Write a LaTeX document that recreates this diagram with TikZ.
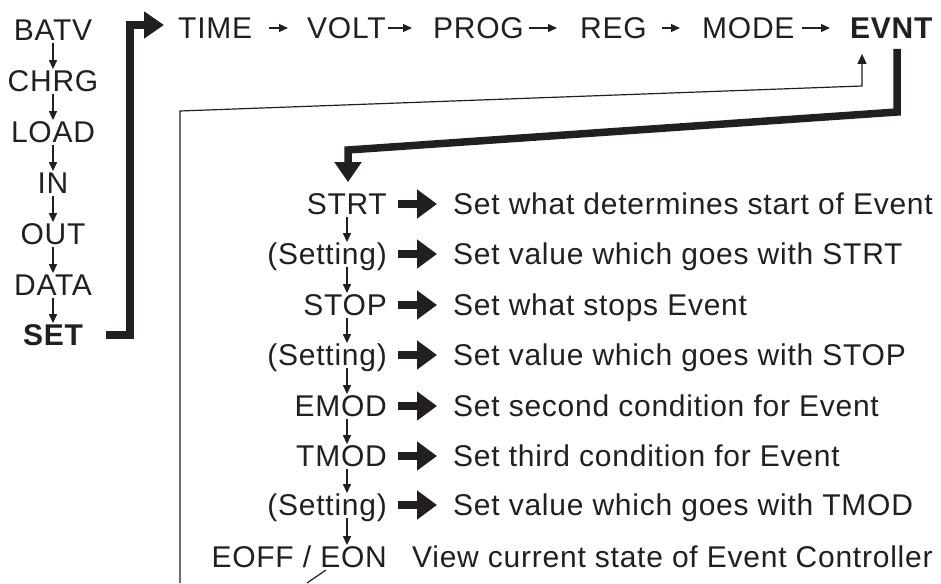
\documentclass[tikz,border=0pt]{standalone}
\usepackage{fontspec}
\setmainfont{Liberation Sans}[LetterSpace=2.5]
\usetikzlibrary{arrows.meta}
\definecolor{ink}{HTML}{231F20}
\begin{document}
\begin{tikzpicture}[x=1pt,y=-1pt,
  txt/.style={inner sep=0pt, text height=21.4pt, text depth=0pt, text=ink, font=\fontsize{30}{31}\selectfont},
  btxt/.style={txt, font=\fontsize{30}{31}\selectfont\bfseries},
  sarrow/.style={draw=ink, line width=1.3pt, -{Triangle[length=9pt,width=8pt]}},
  bigarrow/.style={draw=ink, line width=8pt, -{Triangle[length=20pt,width=28pt]}},
  bigline/.style={draw=ink, line width=7.5pt, line join=miter, -{Triangle[length=20pt,width=26pt]}},
  thinline/.style={draw=ink, line width=1.2pt, -{Triangle[length=10pt,width=9pt]}},
]
\useasboundingbox (0,0) rectangle (941,583);

% left column
\node[txt] (batv) at (53,30) {BATV};
\node[txt] (chrg) at (53,81) {CHRG};
\node[txt] (load) at (53,132) {LOAD};
\node[txt] (in)   at (53,183) {IN};
\node[txt] (out)  at (53,234) {OUT};
\node[txt] (data) at (53,285) {DATA};
\node[btxt] (set) at (53,335) {SET};
\foreach \a/\b in {batv/chrg,chrg/load,load/in,in/out,out/data,data/set}
  \draw[sarrow] ([yshift=-2]\a.south) -- ([yshift=1]\b.north);

% top row
\node[txt, anchor=west] (time) at (178,28) {TIME};
\node[txt, anchor=west] (volt) at (307,28) {VOLT};
\node[txt, anchor=west] (prog) at (433,28) {PROG};
\node[txt, anchor=west] (reg)  at (580,28) {REG};
\node[txt, anchor=west] (mode) at (702,28) {MODE};
\node[btxt, anchor=west] (evnt) at (850,28) {EVNT};
\draw[sarrow] ([xshift=17]time.east) -- ([xshift=-19]volt.west);
\draw[sarrow] ([xshift=2]volt.east) -- ([xshift=-21]prog.west);
\draw[sarrow] ([xshift=5]prog.east) -- ([xshift=-23]reg.west);
\draw[sarrow] ([xshift=15]reg.east) -- ([xshift=-22]mode.west);
\draw[sarrow] ([xshift=7]mode.east) -- ([xshift=-20]evnt.west);

% lower list
\coordinate (ax) at (347,0);
\node[txt, anchor=east] (strt) at (387,204) {STRT};
\node[txt, anchor=east] (s1)   at (387,254) {(Setting)};
\node[txt, anchor=east] (stop) at (387,305) {STOP};
\node[txt, anchor=east] (s2)   at (387,355) {(Setting)};
\node[txt, anchor=east] (emod) at (387,406) {EMOD};
\node[txt, anchor=east] (tmod) at (387,456) {TMOD};
\node[txt, anchor=east] (s3)   at (387,505) {(Setting)};
\node[txt, anchor=east] (eoff) at (387,557) {EOFF / EON};
\foreach \a/\b in {strt/s1,s1/stop,stop/s2,s2/emod,emod/tmod,tmod/s3,s3/eoff}
  \draw[sarrow] ([yshift=-2]\a.south -| ax) -- ([yshift=1]\b.north -| ax);

\node[txt, anchor=west] (d1) at (453,204) {Set what determines start of Event};
\node[txt, anchor=west] (d2) at (453,254) {Set value which goes with STRT};
\node[txt, anchor=west] (d3) at (453,305) {Set what stops Event};
\node[txt, anchor=west] (d4) at (453,355) {Set value which goes with STOP};
\node[txt, anchor=west] (d5) at (453,406) {Set second condition for Event};
\node[txt, anchor=west] (d6) at (453,456) {Set third condition for Event};
\node[txt, anchor=west] (d7) at (453,505) {Set value which goes with TMOD};
\node[txt, anchor=west] (d8) at (412,557) {View current state of Event Controller};
\foreach \a/\b in {strt/d1,s1/d2,stop/d3,s2/d4,emod/d5,tmod/d6,s3/d7}
  \draw[bigarrow] ([xshift=11]\a.east) -- ([xshift=-16]\b.west);

% thick routing lines
\coordinate (c1) at (130,25);
\draw[bigline] ([xshift=23]set.east) -| (c1) -- ([xshift=-14,yshift=3]time.west);
\coordinate (c2) at (897,112);
\coordinate (c3) at (348,150);
\coordinate (c0) at (897,49);
\draw[bigline] (c0) -- (c2) -- (c3) -- ([yshift=11]strt.north -| c3);

% thin loop line
\coordinate (l0) at (180,583);
\coordinate (l1) at (180,111);
\coordinate (l2) at (862,86);
\draw[thinline] (l0) -- (l1) -- (l2) -- ([yshift=-15]evnt.south -| l2);
\coordinate (e1) at (326,570);
\coordinate (e2) at (307,583);
\draw[draw=ink, line width=1.2pt] (e1) -- (e2);
\end{tikzpicture}
\end{document}
